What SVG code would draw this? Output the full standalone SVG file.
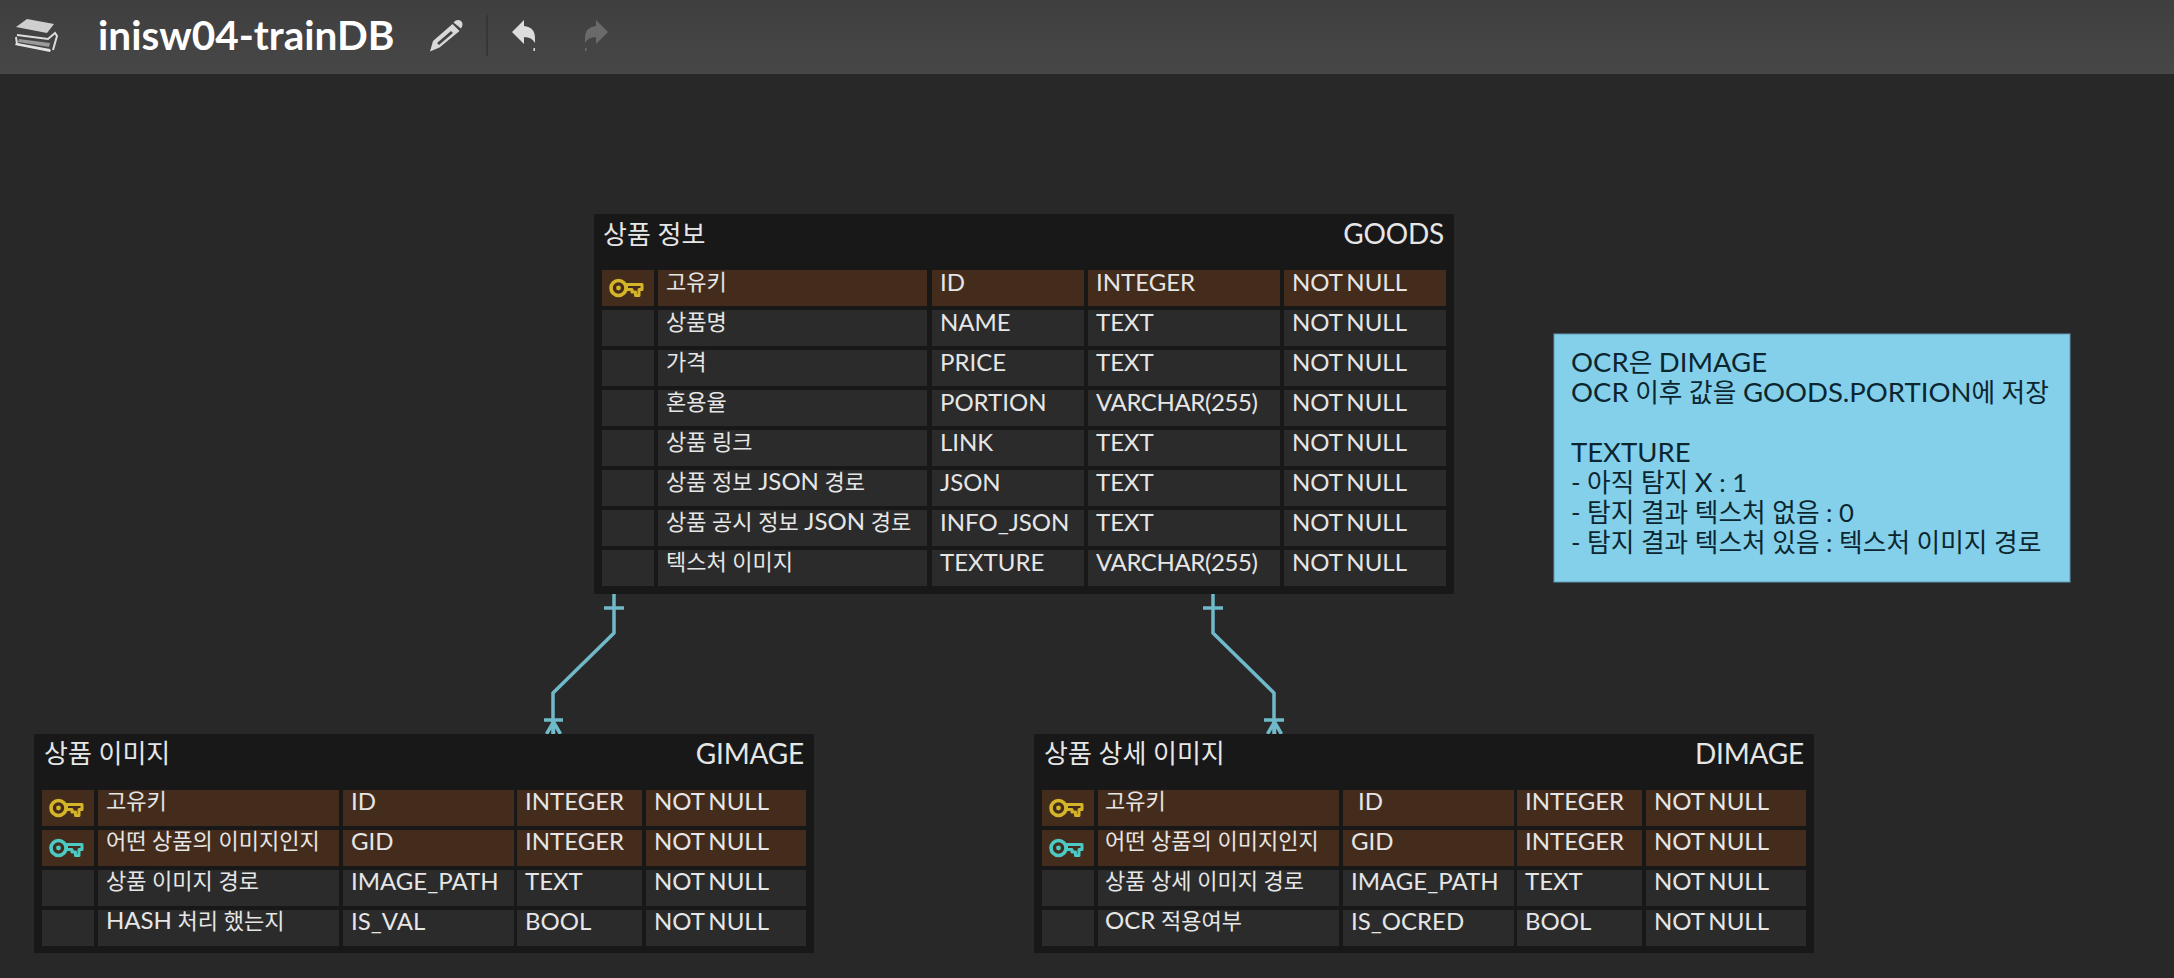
<svg xmlns="http://www.w3.org/2000/svg" width="2174" height="978" viewBox="0 0 2174 978">
<defs>
<linearGradient id="hdr" x1="0" y1="0" x2="0" y2="1"><stop offset="0" stop-color="#3f3f3f"/><stop offset="1" stop-color="#474747"/></linearGradient>
<g id="key"><circle cx="9.500" cy="11" r="7.500" fill="none" stroke-width="3.600" stroke="currentColor"/><circle cx="9.500" cy="11" r="2.400" fill="currentColor"/><path d="M17.500 7.500H33V12.500H30V18.500H26.500V15H23V12.500H17.500Z" fill="none" stroke="currentColor" stroke-width="3" stroke-linejoin="round"/></g>
</defs>
<style>
text{font-family:Lato,"Noto Sans CJK KR",sans-serif;fill:#e6e6e6}
.tb{fill:#181818}
.r{fill:#2b2b2b}
.p{fill:#432c1c}
.h{font-size:26px}
.e{font-size:28px;text-anchor:end;letter-spacing:-.2px}
.t{font-size:24px;word-spacing:-2px}
.k{font-size:22px;word-spacing:0}
.l{font-size:24px}
.n text{fill:#0c2630;font-size:25.700px}
.n tspan{font-size:27.500px}
.c{fill:none;stroke:#6fb9c8;stroke-width:3.500}
</style>
<rect width="2174" height="978" fill="#282828"/>
<g id="toolbar">
<rect width="2174" height="74" fill="url(#hdr)"/>
<g id="icon-books">
<path d="M16 27L27 19L54 24L47 33Z" fill="#cfcfcf"/>
<path d="M17 35L48 39L55 33L57 36L53 50M16 37L17 44L50 50" fill="none" stroke="#dcdcdc" stroke-width="2"/>
<path d="M19 39L50 43L49 47L18 42Z" fill="#9a9a9a"/>
<path d="M15 45L50 52L51 50L16 43Z" fill="#e4e4e4"/>
</g>
<text x="98" y="50" font-size="40.500" font-weight="700" style="fill:#fff">inisw04-trainDB</text>
<g id="icon-pencil">
<path d="M430 51.500L433 41L452.500 24L459.500 31L439.500 47.500ZM437 43L439 45L453 33L451 31Z" fill="#d9d9d9" fill-rule="evenodd"/>
<path d="M453.500 22.500Q457 18.500 461 21Q464 24 461 28.500Z" fill="#d9d9d9"/>
</g>
<path d="M487 15V56" stroke="#363636" stroke-width="2"/>
<g id="icon-undo" fill="#dcdcdc"><path d="M512 32L524 20V26Q535 27 535 38V43Q532 37 524 37V44Z"/><rect x="533.500" y="48" width="1.500" height="3"/></g>
<g id="icon-redo" fill="#6a6a6a"><path d="M608 32L596 20V26Q585 27 585 38V43Q588 37 596 37V44Z"/><rect x="585" y="48" width="1.500" height="3"/></g>
</g>
<g id="connectors">
<path class="c" d="M614 594V633L553 693V734"/>
<path class="c" d="M604 608H624"/>
<path class="c" d="M544 720H563M553.500 722L546.500 734M553.500 722V734M553.500 722L560.500 734"/>
<path class="c" d="M1213 594V633L1274 693V734"/>
<path class="c" d="M1203 608H1223"/>
<path class="c" d="M1264 720H1284M1274.500 722L1267.500 734M1274.500 722V734M1274.500 722L1281.500 734"/>
</g>
<g id="goods">
<rect class="tb" x="594" y="214" width="860" height="380"/>
<text class="h" x="603" y="244">상품 정보</text><text class="e" x="1444" y="244">GOODS</text>
<g>
<rect class="p" x="602" y="270" width="52" height="36"/><rect class="p" x="658" y="270" width="269" height="36"/><rect class="p" x="932" y="270" width="152" height="36"/><rect class="p" x="1088" y="270" width="192" height="36"/><rect class="p" x="1284" y="270" width="162" height="36"/>
<use href="#key" x="609" y="277" color="#d4b52a"/>
<text class="t k" x="666" y="290">고유키</text><text class="t" x="940" y="291">ID</text><text class="t" x="1096" y="291">INTEGER</text><text class="t" x="1292" y="291">NOT NULL</text>
</g>
<g>
<rect class="r" x="602" y="310" width="52" height="36"/><rect class="r" x="658" y="310" width="269" height="36"/><rect class="r" x="932" y="310" width="152" height="36"/><rect class="r" x="1088" y="310" width="192" height="36"/><rect class="r" x="1284" y="310" width="162" height="36"/>
<text class="t k" x="666" y="330">상품명</text><text class="t" x="940" y="331">NAME</text><text class="t" x="1096" y="331">TEXT</text><text class="t" x="1292" y="331">NOT NULL</text>
</g>
<g>
<rect class="r" x="602" y="350" width="52" height="36"/><rect class="r" x="658" y="350" width="269" height="36"/><rect class="r" x="932" y="350" width="152" height="36"/><rect class="r" x="1088" y="350" width="192" height="36"/><rect class="r" x="1284" y="350" width="162" height="36"/>
<text class="t k" x="666" y="370">가격</text><text class="t" x="940" y="371">PRICE</text><text class="t" x="1096" y="371">TEXT</text><text class="t" x="1292" y="371">NOT NULL</text>
</g>
<g>
<rect class="r" x="602" y="390" width="52" height="36"/><rect class="r" x="658" y="390" width="269" height="36"/><rect class="r" x="932" y="390" width="152" height="36"/><rect class="r" x="1088" y="390" width="192" height="36"/><rect class="r" x="1284" y="390" width="162" height="36"/>
<text class="t k" x="666" y="410">혼용율</text><text class="t" x="940" y="411">PORTION</text><text class="t" x="1096" y="411" letter-spacing="-.4">VARCHAR(255)</text><text class="t" x="1292" y="411">NOT NULL</text>
</g>
<g>
<rect class="r" x="602" y="430" width="52" height="36"/><rect class="r" x="658" y="430" width="269" height="36"/><rect class="r" x="932" y="430" width="152" height="36"/><rect class="r" x="1088" y="430" width="192" height="36"/><rect class="r" x="1284" y="430" width="162" height="36"/>
<text class="t k" x="666" y="450">상품 링크</text><text class="t" x="940" y="451">LINK</text><text class="t" x="1096" y="451">TEXT</text><text class="t" x="1292" y="451">NOT NULL</text>
</g>
<g>
<rect class="r" x="602" y="470" width="52" height="36"/><rect class="r" x="658" y="470" width="269" height="36"/><rect class="r" x="932" y="470" width="152" height="36"/><rect class="r" x="1088" y="470" width="192" height="36"/><rect class="r" x="1284" y="470" width="162" height="36"/>
<text class="t k" x="666" y="490">상품 정보 <tspan class="l">JSON</tspan> 경로</text><text class="t" x="940" y="491">JSON</text><text class="t" x="1096" y="491">TEXT</text><text class="t" x="1292" y="491">NOT NULL</text>
</g>
<g>
<rect class="r" x="602" y="510" width="52" height="36"/><rect class="r" x="658" y="510" width="269" height="36"/><rect class="r" x="932" y="510" width="152" height="36"/><rect class="r" x="1088" y="510" width="192" height="36"/><rect class="r" x="1284" y="510" width="162" height="36"/>
<text class="t k" x="666" y="530">상품 공시 정보 <tspan class="l">JSON</tspan> 경로</text><text class="t" x="940" y="531">INFO_JSON</text><text class="t" x="1096" y="531">TEXT</text><text class="t" x="1292" y="531">NOT NULL</text>
</g>
<g>
<rect class="r" x="602" y="550" width="52" height="36"/><rect class="r" x="658" y="550" width="269" height="36"/><rect class="r" x="932" y="550" width="152" height="36"/><rect class="r" x="1088" y="550" width="192" height="36"/><rect class="r" x="1284" y="550" width="162" height="36"/>
<text class="t k" x="666" y="570">텍스처 이미지</text><text class="t" x="940" y="571">TEXTURE</text><text class="t" x="1096" y="571" letter-spacing="-.4">VARCHAR(255)</text><text class="t" x="1292" y="571">NOT NULL</text>
</g>
</g>
<g id="gimage">
<rect class="tb" x="34" y="734" width="780" height="219"/>
<text class="h" x="44" y="763">상품 이미지</text><text class="e" x="804" y="764">GIMAGE</text>
<g>
<rect class="p" x="42" y="790" width="52" height="36"/><rect class="p" x="98" y="790" width="241" height="36"/><rect class="p" x="343" y="790" width="171" height="36"/><rect class="p" x="517" y="790" width="125" height="36"/><rect class="p" x="646" y="790" width="160" height="36"/>
<use href="#key" x="49" y="797" color="#d4b52a"/>
<text class="t k" x="106" y="809">고유키</text><text class="t" x="351" y="810">ID</text><text class="t" x="525" y="810">INTEGER</text><text class="t" x="654" y="810">NOT NULL</text>
</g>
<g>
<rect class="p" x="42" y="830" width="52" height="36"/><rect class="p" x="98" y="830" width="241" height="36"/><rect class="p" x="343" y="830" width="171" height="36"/><rect class="p" x="517" y="830" width="125" height="36"/><rect class="p" x="646" y="830" width="160" height="36"/>
<use href="#key" x="49" y="837" color="#4dc9c4"/>
<text class="t k" x="106" y="849">어떤 상품의 이미지인지</text><text class="t" x="351" y="850">GID</text><text class="t" x="525" y="850">INTEGER</text><text class="t" x="654" y="850">NOT NULL</text>
</g>
<g>
<rect class="r" x="42" y="870" width="52" height="36"/><rect class="r" x="98" y="870" width="241" height="36"/><rect class="r" x="343" y="870" width="171" height="36"/><rect class="r" x="517" y="870" width="125" height="36"/><rect class="r" x="646" y="870" width="160" height="36"/>
<text class="t k" x="106" y="889">상품 이미지 경로</text><text class="t" x="351" y="890">IMAGE_PATH</text><text class="t" x="525" y="890">TEXT</text><text class="t" x="654" y="890">NOT NULL</text>
</g>
<g>
<rect class="r" x="42" y="910" width="52" height="36"/><rect class="r" x="98" y="910" width="241" height="36"/><rect class="r" x="343" y="910" width="171" height="36"/><rect class="r" x="517" y="910" width="125" height="36"/><rect class="r" x="646" y="910" width="160" height="36"/>
<text class="t k" x="106" y="929"><tspan class="l">HASH</tspan> 처리 했는지</text><text class="t" x="351" y="930">IS_VAL</text><text class="t" x="525" y="930">BOOL</text><text class="t" x="654" y="930">NOT NULL</text>
</g>
</g>
<g id="dimage">
<rect class="tb" x="1034" y="734" width="780" height="219"/>
<text class="h" x="1044" y="763">상품 상세 이미지</text><text class="e" x="1804" y="764">DIMAGE</text>
<g>
<rect class="p" x="1042" y="790" width="52" height="36"/><rect class="p" x="1098" y="790" width="241" height="36"/><rect class="p" x="1343" y="790" width="171" height="36"/><rect class="p" x="1517" y="790" width="125" height="36"/><rect class="p" x="1646" y="790" width="160" height="36"/>
<use href="#key" x="1049" y="797" color="#d4b52a"/>
<text class="t k" x="1105" y="809">고유키</text><text class="t" x="1358" y="810">ID</text><text class="t" x="1525" y="810">INTEGER</text><text class="t" x="1654" y="810">NOT NULL</text>
</g>
<g>
<rect class="p" x="1042" y="830" width="52" height="36"/><rect class="p" x="1098" y="830" width="241" height="36"/><rect class="p" x="1343" y="830" width="171" height="36"/><rect class="p" x="1517" y="830" width="125" height="36"/><rect class="p" x="1646" y="830" width="160" height="36"/>
<use href="#key" x="1049" y="837" color="#4dc9c4"/>
<text class="t k" x="1105" y="849">어떤 상품의 이미지인지</text><text class="t" x="1351" y="850">GID</text><text class="t" x="1525" y="850">INTEGER</text><text class="t" x="1654" y="850">NOT NULL</text>
</g>
<g>
<rect class="r" x="1042" y="870" width="52" height="36"/><rect class="r" x="1098" y="870" width="241" height="36"/><rect class="r" x="1343" y="870" width="171" height="36"/><rect class="r" x="1517" y="870" width="125" height="36"/><rect class="r" x="1646" y="870" width="160" height="36"/>
<text class="t k" x="1105" y="889">상품 상세 이미지 경로</text><text class="t" x="1351" y="890">IMAGE_PATH</text><text class="t" x="1525" y="890">TEXT</text><text class="t" x="1654" y="890">NOT NULL</text>
</g>
<g>
<rect class="r" x="1042" y="910" width="52" height="36"/><rect class="r" x="1098" y="910" width="241" height="36"/><rect class="r" x="1343" y="910" width="171" height="36"/><rect class="r" x="1517" y="910" width="125" height="36"/><rect class="r" x="1646" y="910" width="160" height="36"/>
<text class="t k" x="1105" y="929"><tspan class="l">OCR</tspan> 적용여부</text><text class="t" x="1351" y="930">IS_OCRED</text><text class="t" x="1525" y="930">BOOL</text><text class="t" x="1654" y="930">NOT NULL</text>
</g>
</g>
<g id="note" class="n">
<rect x="1554" y="334" width="516" height="248" fill="#84d0ea" stroke="#5e9cb0" stroke-width="1"/>
<text x="1571" y="372"><tspan>OCR</tspan>은 <tspan>DIMAGE</tspan></text>
<text x="1571" y="402"><tspan>OCR</tspan> 이후 값을 <tspan>GOODS.PORTION</tspan>에 저장</text>
<text x="1571" y="462"><tspan>TEXTURE</tspan></text>
<text x="1571" y="492">- 아직 탐지 <tspan>X</tspan> : 1</text>
<text x="1571" y="522">- 탐지 결과 텍스처 없음 : 0</text>
<text x="1571" y="552">- 탐지 결과 텍스처 있음 : 텍스처 이미지 경로</text>
</g>
</svg>
